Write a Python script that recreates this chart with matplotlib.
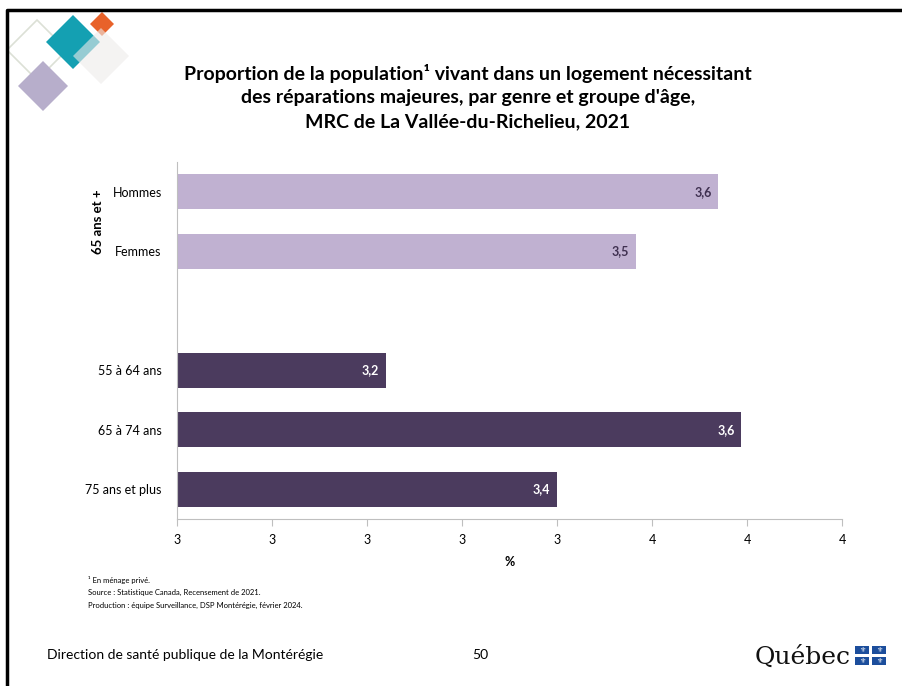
import numpy as np
import matplotlib
matplotlib.use("Agg")
import matplotlib.pyplot as plt
from matplotlib.patches import Polygon, Rectangle
from matplotlib.lines import Line2D
from matplotlib.ticker import MultipleLocator, FuncFormatter

# data
categories = ["Hommes", "Femmes", "", "55 à 64 ans", "65 à 74 ans", "75 ans et plus"]
values = [3.57, 3.483, np.nan, 3.22, 3.594, 3.40]
bar_colors = ["#C0B1D1", "#C0B1D1", "none", "#4B3B5E", "#4B3B5E", "#4B3B5E"]
label_colors = ["#3F3050", "#3F3050", "none", "white", "white", "white"]
group_label = "65 ans et +"
title = ("Proportion de la population¹ vivant dans un logement nécessitant\n"
         "des réparations majeures, par genre et groupe d'âge,\n"
         "MRC de La Vallée-du-Richelieu, 2021")
notes = ["¹ En ménage privé.",
         "Source : Statistique Canada, Recensement de 2021.",
         "Production : équipe Surveillance, DSP Montérégie, février 2024."]

plt.rcParams['font.family'] = ['Lato', 'DejaVu Sans']

W, H = 902, 686
fig = plt.figure(figsize=(W / 100, H / 100), dpi=100)

def px(x, y):
    return (x / W, 1 - y / H)

# slide frame (left and top edges only are visible)
fig.add_artist(Line2D([7 / W, 7 / W, 1], [0, 1 - 10 / H, 1 - 10 / H],
                      transform=fig.transFigure, color="black", linewidth=2.5))

# decorative diamonds top-left
def diamond(cx, cy, r, **kw):
    pts = [px(cx, cy - r), px(cx + r, cy), px(cx, cy + r), px(cx - r, cy)]
    fig.add_artist(Polygon(pts, closed=True, transform=fig.transFigure, **kw))

diamond(37, 50, 30, fill=False, edgecolor="#DCE0D6", linewidth=1.2)
diamond(43, 86, 25, facecolor="#B7AECB", edgecolor="none")
diamond(73, 42, 27, facecolor="#14A0B2", edgecolor="none")
diamond(102, 24, 12, facecolor="#E8622A", edgecolor="none")
diamond(101, 56, 28, facecolor="#EEEBEA", edgecolor="none", alpha=0.6)

fig.text(468 / W, 1 - 97 / H, title, ha="center", va="center", fontsize=14,
         fontweight="bold", linespacing=1.45)

ax = fig.add_axes([177 / W, 167 / H, 665 / W, 357 / H])
y = np.arange(len(categories))
ax.barh(y, [0 if np.isnan(v) else v - 3.0 for v in values], left=3.0, height=0.59,
        color=bar_colors, edgecolor="none")
for yi, v, c in zip(y, values, label_colors):
    if np.isnan(v):
        continue
    ax.text(v - 0.007, yi, f"{v:.1f}".replace(".", ","), ha="right", va="center",
            fontsize=9, fontweight="bold", color=c)

ax.set_ylim(len(categories) - 0.5, -0.5)
ax.set_xlim(3.0, 3.7)
ax.xaxis.set_major_locator(MultipleLocator(0.1))
ax.xaxis.set_major_formatter(FuncFormatter(lambda v, p: str(int(np.floor(v + 0.5 + 1e-9)))))
ax.set_yticks(y)
ax.set_yticklabels(categories, fontsize=9)
ax.tick_params(axis="y", length=0, pad=11)
ax.tick_params(axis="x", length=5, color="#BFBFBF", labelsize=9, pad=6)
for s in ["top", "right"]:
    ax.spines[s].set_visible(False)
for s in ["left", "bottom"]:
    ax.spines[s].set_color("#BFBFBF")
ax.set_xlabel("%", fontsize=9, fontweight="bold", labelpad=7)

fig.text(98 / W, 1 - 222 / H, group_label, rotation=90, ha="center", va="center",
         fontsize=9.5, fontweight="bold")

for i, n in enumerate(notes):
    fig.text(88 / W, 1 - (580 + i * 12.5) / H, n, fontsize=5.5, va="center")

fig.text(47 / W, 1 - 655 / H, "Direction de santé publique de la Montérégie",
         fontsize=10, va="center")
fig.text(480 / W, 1 - 655 / H, "50", fontsize=10, va="center", ha="center")

# Québec signature
fig.text(755 / W, 1 - 657 / H, "Québec", fontsize=18, va="center",
         family="DejaVu Serif", color="#111111")
for x0 in (855, 872):
    for y0 in (646, 657):
        fig.add_artist(Rectangle(px(x0, y0 + 8), 14 / W, 8 / H,
                                 transform=fig.transFigure, facecolor="#1C4E9C",
                                 edgecolor="none"))
        fig.text((x0 + 7) / W, 1 - (y0 + 4) / H, "⚜", family="DejaVu Sans",
                 fontsize=5, color="white", ha="center", va="center")

fig.savefig("out.png", dpi=100)
